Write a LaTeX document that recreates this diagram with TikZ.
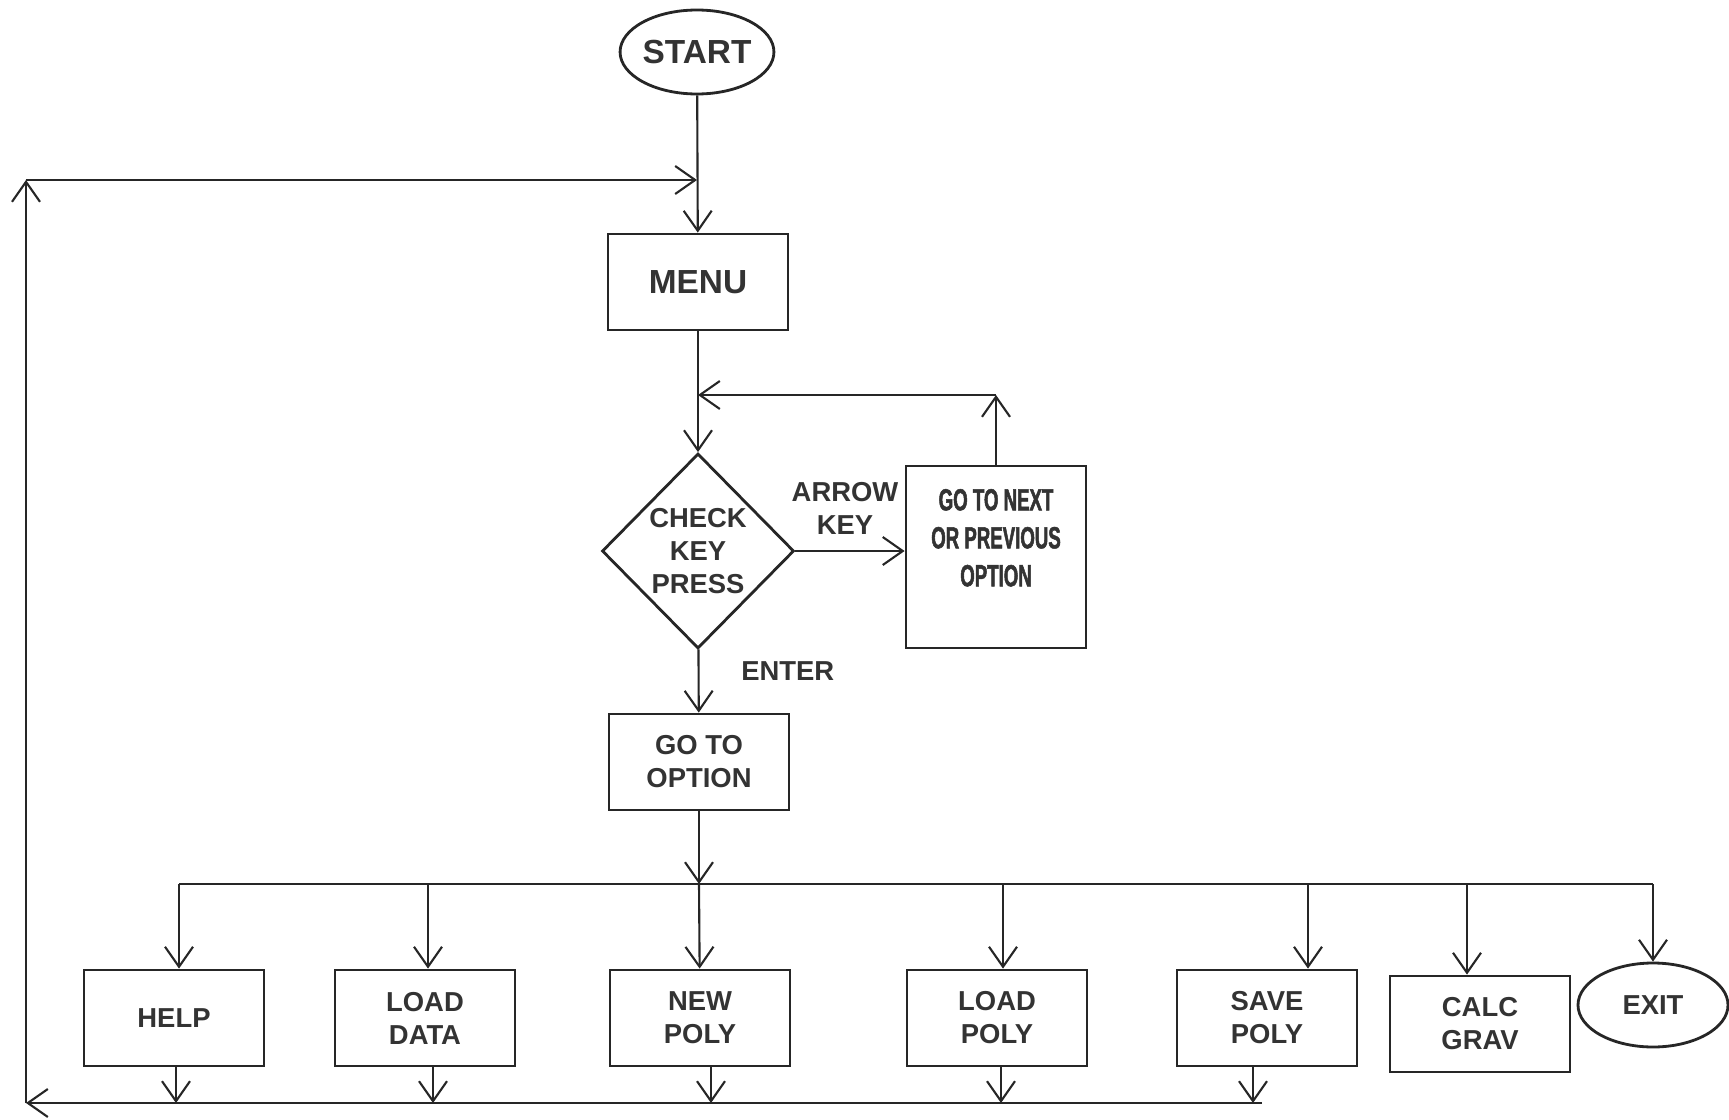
\documentclass[tikz,border=0pt]{standalone}
\usepackage{fontspec}
\setmainfont{Liberation Sans}
\newfontfamily\narrowfont[FakeStretch=0.61, BoldFeatures={FakeBold=1.6}]{Liberation Sans}
\usetikzlibrary{arrows.meta,shapes.geometric}

\begin{document}
\begin{tikzpicture}[
    >={Straight Barb[length=2mm,width=2.8mm]},
    flow/.style={line width=0.6pt, draw=black!85},
    box/.style={draw=black!85, line width=0.8pt, minimum width=1.8cm,
        minimum height=0.96cm, align=center, text=black!80,
        font=\fontsize{7.8}{9.4}\selectfont\bfseries},
    term/.style={box, ellipse, inner sep=0pt, minimum width=1.5cm, minimum height=0.84cm},
    big/.style={font=\fontsize{9.5}{11}\selectfont\bfseries},
    lbl/.style={align=center, text=black!80, font=\fontsize{7.8}{9.4}\selectfont\bfseries}
]
\useasboundingbox (0,0) rectangle (17.29,11.19);

% Top part
\node[term, big] (start) at (6.97,10.67) {START};
\node[box, big] (menu) at (6.98,8.37) {MENU};
\node[box, diamond, inner sep=0pt, minimum width=1.92cm, minimum height=1.95cm] (check) at (6.98,5.68) {CHECK\\KEY\\PRESS};
\node[box, minimum height=1.82cm,
    label={[lbl, anchor=north, yshift=-1.2mm, font=\narrowfont\fontsize{8.7}{10.8}\selectfont\bfseries]north:{GO TO NEXT\\OR PREVIOUS\\OPTION}}] (next) at (9.96,5.62) {};
\node[box] (goto) at (6.99,3.57) {GO TO\\OPTION};

% Option boxes
\node[box] (help) at (1.74,1.01) {HELP};
\node[box] (loaddata) at (4.25,1.01) {LOAD\\DATA};
\node[box] (newpoly) at (7.00,1.01) {NEW\\POLY};
\node[box] (loadpoly) at (9.97,1.01) {LOAD\\POLY};
\node[box] (savepoly) at (12.67,1.01) {SAVE\\POLY};
\node[box] (calcgrav) at (14.80,0.95) {CALC\\GRAV};
\node[term] (exit) at (16.53,1.14) {EXIT};

% Corner points of the lines
\coordinate (busL) at (1.79,2.35);
\coordinate (busR) at (16.53,2.35);
\coordinate (retL) at (0.26,0.16);
\coordinate (retR) at (12.62,0.16);
\coordinate (topL) at (0.26,9.39);
\coordinate (backR) at (9.96,7.24);

% Main flow
\draw[flow,->] (start) -- (menu);
\draw[flow,->] (menu) -- (check);
\draw[flow,->] (check.east) -- (check.east -| next.west)
    node[lbl, midway, above=0.4mm, xshift=-0.5mm] {ARROW\\KEY};
\draw[flow,->] (check) -- (goto) node[lbl, pos=0.35, right=3mm] {ENTER};

% Arrow key loop
\draw[flow,->] (next) -- (backR);
\draw[flow,->] (backR) -- (menu.south |- backR);

% Return loop
\draw[flow,->] (retR) -- (retL);
\draw[flow,->] (retL) -- (topL);
\draw[flow,->] (topL) -- (start |- topL);

% Option bus
\draw[flow] (busL) -- (busR);
\draw[flow,->] (goto) -- (goto |- busL);
\draw[flow,->] (goto |- busL) -- (newpoly);
\foreach \n/\dx in {help/0.05, loaddata/0.03, loadpoly/0.06, savepoly/0.41, calcgrav/-0.13, exit/0}
    \draw[flow,->] ([xshift=\dx cm]\n.north |- busL) -- ([xshift=\dx cm]\n.north);
\foreach \n/\dx in {help/0.02, loaddata/0.08, newpoly/0.11, loadpoly/0.04, savepoly/-0.14}
    \draw[flow,->] ([xshift=\dx cm]\n.south) -- ([xshift=\dx cm]\n.south |- retL);
\end{tikzpicture}
\end{document}
